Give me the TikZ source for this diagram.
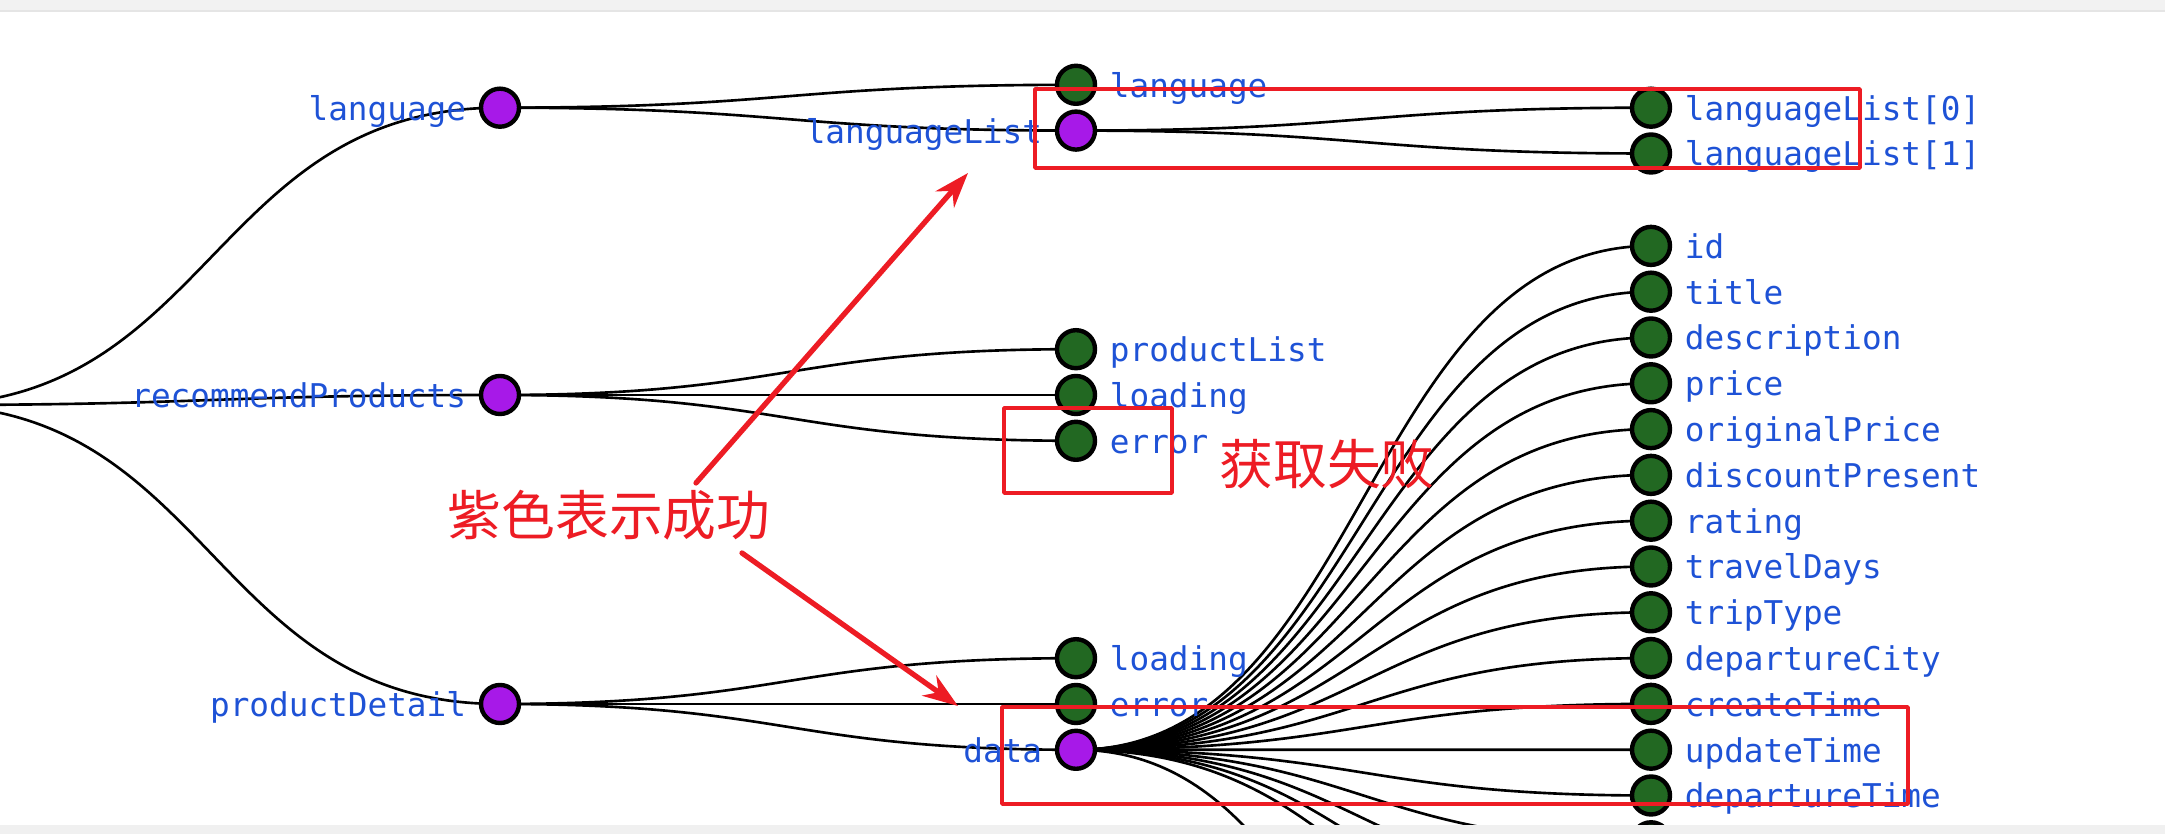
\documentclass[tikz,border=0pt]{standalone}
\usepackage{fontspec}
\setmonofont{DejaVu Sans Mono}
\newfontfamily\cjk{Noto Sans CJK SC}
\usetikzlibrary{arrows.meta,backgrounds,calc}
\definecolor{okpurple}{RGB}{167,25,232}
\definecolor{leafgreen}{RGB}{34,104,34}
\definecolor{keyblue}{RGB}{30,82,214}
\definecolor{markred}{RGB}{237,28,36}
\newcommand{\treelink}[2]{\draw[link] let \p1=(#1.center), \p2=(#2.center) in (\p1) .. controls ({(\x1+\x2)/2},\y1) and ({(\x1+\x2)/2},\y2) .. (\p2);}
\begin{document}
\begin{tikzpicture}[x=0.01cm, y=-0.01cm, line cap=round, line join=round, label distance=0.12cm,
	dot/.style={circle, draw=black, line width=1.25pt, minimum size=0.38cm, inner sep=0pt},
	full/.style={dot, fill=okpurple},
	leaf/.style={dot, fill=leafgreen},
	tag/.style={font=\ttfamily\fontsize{9.3}{10}\selectfont, text=keyblue, inner sep=0pt, text height=8pt, text depth=0.9pt},
	link/.style={line width=0.75pt},
	redbox/.style={draw=markred, line width=1pt},
	redarrow/.style={draw=markred, line width=1.5pt, -{Stealth[length=10pt,width=7pt]}},
	note/.style={font=\cjk\fontsize{15.3}{16}\selectfont, text=markred, inner sep=0pt}]
	\useasboundingbox (0,0) rectangle (2165,834);
	\coordinate (root) at (-76,405);
	\node[full, label={[tag]left:language}] (language) at (500,107.7) {};
	\node[full, label={[tag]left:recommendProducts}] (recommend) at (500,395) {};
	\node[full, label={[tag]left:productDetail}] (detail) at (500,704) {};
	\node[leaf, label={[tag]right:language}] (lang-value) at (1076,84.8) {};
	\node[full, label={[tag]left:languageList}] (lang-list) at (1076,130.6) {};
	\node[leaf, label={[tag]right:productList}] (rp-list) at (1076,349.2) {};
	\node[leaf, label={[tag]right:loading}] (rp-loading) at (1076,395) {};
	\node[leaf, label={[tag]right:error}] (rp-error) at (1076,440.8) {};
	\node[leaf, label={[tag]right:loading}] (pd-loading) at (1076,658.2) {};
	\node[leaf, label={[tag]right:error}] (pd-error) at (1076,704) {};
	\node[full, label={[tag]left:data}] (pd-data) at (1076,749.8) {};
	\foreach \i in {0,1}
	\node[leaf, label={[tag]right:{languageList[\i]}}] (list-\i) at (1651,{107.7+45.8*\i}) {};
	\foreach \name [count=\k from 0] in {id,title,description,price,originalPrice,discountPresent,rating,travelDays,tripType,departureCity,createTime,updateTime,departureTime}
	\node[leaf, label={[tag]right:\name}] (field-\k) at (1651,{245.9+45.8*\k}) {};
	\node[leaf] (field-13) at (1651,841.3) {};
	\foreach \k/\py in {14/887.1, 15/932.9, 16/978.7, 17/1256}
	\coordinate (field-\k) at (1651,\py);
	\begin{scope}[on background layer]
		\fill[white] (0,0) rectangle (2165,834);
		\foreach \a/\b in {root/language, root/recommend, root/detail, language/lang-value, language/lang-list, lang-list/list-0, lang-list/list-1, recommend/rp-list, recommend/rp-loading, recommend/rp-error, detail/pd-loading, detail/pd-error, detail/pd-data}
		{\treelink{\a}{\b}}
		\foreach \k in {0,...,17}
		{\treelink{pd-data}{field-\k}}
	\end{scope}
	\fill[black!5] (0,0) rectangle (2165,10);
	\fill[black!10] (0,10) rectangle (2165,12.5);
	\fill[black!6] (0,825) rectangle (2165,834);
	\draw[redbox] (1035,89) rectangle (1860,168);
	\draw[redbox] (1004,408) rectangle (1172,493);
	\draw[redbox] (1002,707) rectangle (1908,804);
	\node[note] (ok-note) at (609,515) {紫色表示成功};
	\node[note] (fail-note) at (1327,464) {获取失败};
	\coordinate (ok-from-up) at (696,483);
	\coordinate (ok-up) at (968,173);
	\coordinate (ok-from-down) at (742,553);
	\coordinate (ok-down) at (958,706);
	\draw[redarrow] (ok-from-up) -- (ok-up);
	\draw[redarrow] (ok-from-down) -- (ok-down);
\end{tikzpicture}
\end{document}
